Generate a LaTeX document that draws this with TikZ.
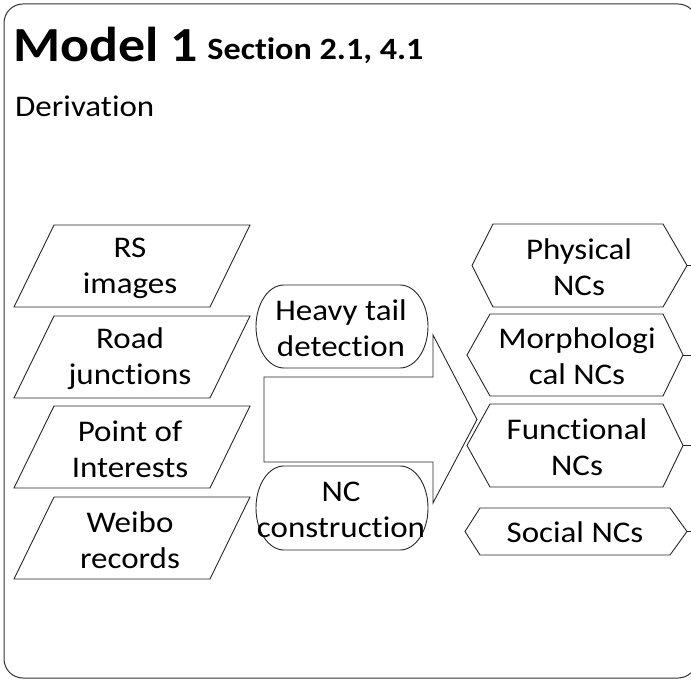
\documentclass[tikz,border=0pt]{standalone}
\usepackage{fontspec}
\setmainfont{Carlito}[Ligatures=NoCommon, FakeStretch=1.1]
\begin{document}
\begin{tikzpicture}[x=1pt,y=1pt,
  txt/.style={font=\fontsize{30}{36}\selectfont, align=center, inner sep=0pt, text=black},
  shp/.style={draw=black!85, line width=0.9pt, line join=miter},
  frame/.style={draw=black!80, line width=1pt, rounded corners=19pt}]
\useasboundingbox (0,0) rectangle (691,681);
% frame
\draw[frame] (4,3) rectangle (697,677);
% title
\node[anchor=base west, inner sep=0pt, font=\fontsize{49}{54}\selectfont\bfseries] (title) at (13,619) {Model 1};
\node[anchor=base west, inner sep=0pt, font=\fontsize{31}{36}\selectfont\bfseries] (sect) at ([xshift=9pt,yshift=2pt]title.base east) {Section 2.1, 4.1};
\node[anchor=base west, inner sep=0pt, font=\fontsize{30}{34}\selectfont] (deriv) at (15,564) {Derivation};
% parallelograms (inputs)
\foreach \n/\cy/\t in {p1/415/{RS\\images}, p2/324/{Road\\junctions}, p3/234/{Point of\\Interests}, p4/143/{Weibo\\records}}{
  \draw[shp] (14,\cy-41) -- (54,\cy+41) -- (250,\cy+41) -- (210,\cy-41) -- cycle;
  \node[txt] (\n) at (130,\cy-2) {\t};
}
% terminals
\draw[shp] (284,396) -- (400,396) arc[start angle=90,end angle=-90,x radius=28,y radius=41.5] -- (284,313) arc[start angle=270,end angle=90,x radius=28,y radius=41.5] -- cycle;
\node[txt] (s1) at (341,353) {Heavy tail\\detection};
\draw[shp] (284,215) -- (400,215) arc[start angle=90,end angle=-90,x radius=28,y radius=42] -- (284,131) arc[start angle=270,end angle=90,x radius=28,y radius=42] -- cycle;
\node[txt] (s2) at (341,171) {NC\\construction};
% block arrow
\draw[shp] (264,304) -- (433,304) -- (433,346) -- (477,261.5) -- (433,178) -- (433,219) -- (264,219) -- cycle;
% hexagons (outputs)
\draw[shp] (472,415.5) -- (493,457) -- (663,457) -- (687,415.5) -- (663,374) -- (493,374) -- cycle;
\node[txt] (h1) at (579,414) {Physical\\NCs};
\coordinate (h1r) at (687,415.5);
\draw[shp] (467,326) -- (490,367) -- (663,367) -- (683,326) -- (663,285) -- (490,285) -- cycle;
\node[txt] (h2) at (577,324.5) {Morphologi\\cal NCs};
\coordinate (h2r) at (683,326);
\draw[shp] (467,235.5) -- (490,277) -- (663,277) -- (683,235.5) -- (663,194) -- (490,194) -- cycle;
\node[txt] (h3) at (577,234) {Functional\\NCs};
\coordinate (h3r) at (683,235.5);
\draw[shp] (465,149.5) -- (480,173) -- (670,173) -- (687,149.5) -- (670,126) -- (480,126) -- cycle;
\node[txt] (h4) at (575,148.5) {Social NCs};
\coordinate (h4r) at (687,149.5);
% off-canvas connectors
\foreach \i in {1,2,3,4}{
  \coordinate (e\i) at ([xshift=10pt]h\i r);
  \draw[shp] (h\i r) -- (e\i);
}
\end{tikzpicture}
\end{document}
